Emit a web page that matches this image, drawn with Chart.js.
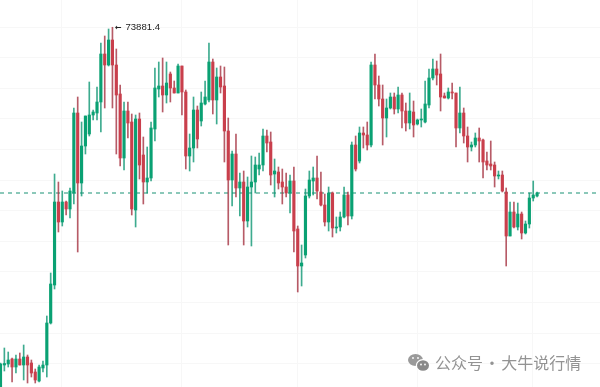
<!DOCTYPE html>
<html lang="en">

<head>
    <meta charset="UTF-8">
    <title>BTC candles</title>
    <style>
        body {
            margin: 0;
            background: #fff;
        }

        canvas {
            display: block;
        }
    </style>
    <script src="https://cdn.jsdelivr.net/npm/chart.js"></script>
</head>

<body>
    <canvas id="candleChart" width="600" height="387"></canvas>

    <script>
        // candle values, one entry per bar
        const opens = [63090, 63750, 63780, 63930, 63690, 63930, 63750, 63990, 63810, 63540, 63270, 63660, 63750, 65010, 66150, 68640, 68040, 68640, 68430, 68910, 71310, 69210, 70320, 70680, 71250, 71310, 71640, 73080, 72750, 73500, 72750, 71880, 69960, 71370, 71040, 68400, 71130, 70050, 69240, 69360, 70830, 72030, 72120, 71850, 72480, 72060, 71910, 72720, 71940, 70020, 70260, 71400,
            71070, 71580, 71700, 72840, 71700, 72390, 72120, 70770, 69300, 70080, 69060, 69240, 68070, 69090, 69240, 69630, 69750, 70620, 70440, 69480, 69540, 69240, 69090, 68910, 69270, 67830, 66720, 67050, 68820, 69270, 69360, 68940, 68550, 68040, 68910, 67860, 67890, 68190, 68850, 68220, 70350, 69870, 70710, 70650, 70350, 72750, 72150, 71730, 71160, 71460, 71790, 71430,
            71850, 71370, 71010, 71340, 70980, 71100, 71040, 71550, 72360, 72630, 72480, 71820, 71760, 71940, 71910, 70860, 71310, 70620, 70290, 70350, 70560, 70500, 69870, 69780, 69750, 69420, 69450, 68940, 67620, 68340, 67890, 68280, 67710, 67980, 68760, 68820];
        const closes = [63780, 63795, 63900, 63690, 63930, 63750, 63990, 63750, 63510, 63300, 63690, 63750, 65010, 66180, 68640, 68040, 68640, 68430, 68970, 71310, 69210, 70320, 71220, 71250, 71340, 71640, 73080, 72750, 73500, 72750, 71850, 69960, 71370, 71010, 68430, 71130, 69750, 69240, 69360, 70860, 72060, 72120, 71850, 72210, 72060, 71910, 72720, 71940, 70020, 70260, 71400, 70530,
            71610, 71790, 72840, 71700, 72390, 72090, 70770, 69300, 70080, 69060, 69240, 68070, 69090, 69240, 69750, 69750, 70620, 70410, 69450, 69570, 69210, 69090, 68910, 69270, 67770, 66720, 66810, 68820, 69300, 69360, 68970, 68550, 68040, 68910, 67860, 67890, 68190, 68850, 68220, 70350, 69630, 70710, 70650, 70350, 72750, 72150, 71730, 71160, 71460, 71790, 71430, 71850,
            71370, 71010, 71370, 70950, 71100, 71130, 71580, 72360, 72630, 72450, 71790, 71760, 71940, 71910, 70860, 71310, 70620, 70290, 70350, 70560, 70470, 69840, 69750, 69720, 69420, 69450, 68970, 67620, 68340, 67890, 68280, 67710, 67980, 68760, 68850, 68910];
        const highs = [63810, 64260, 64140, 63960, 64050, 64110, 64350, 64050, 63900, 63630, 63750, 63870, 65220, 66510, 69480, 69240, 68970, 68670, 69060, 71460, 71790, 71040, 71220, 72240, 71400, 72090, 73410, 73620, 73830, 73881.4, 73230, 72150, 71640, 71640, 71280, 71250, 71310, 70590, 70290, 71040, 72660, 72840, 72960, 72840, 72540, 72270, 72780, 72720, 72000, 70680, 71790, 71520,
            71940, 72270, 73410, 72930, 72660, 72720, 72690, 71160, 70170, 70680, 69510, 69570, 69390, 70020, 69990, 70110, 70830, 70800, 70740, 69930, 69690, 69630, 69510, 69450, 69690, 67920, 67350, 69030, 69570, 69690, 70020, 69540, 68880, 69090, 68940, 68190, 68340, 69090, 68940, 70440, 70620, 70890, 70890, 71040, 72840, 73080, 72420, 72150, 71730, 71910, 71910, 72090,
            71910, 71610, 71910, 71670, 71130, 71430, 72270, 72630, 72930, 72870, 73080, 71910, 72060, 72210, 71910, 72090, 71460, 70890, 70440, 70710, 70860, 70530, 70140, 70470, 69840, 69570, 69570, 69060, 68640, 68640, 68610, 68340, 68070, 68910, 69270, 68940];
        const lows = [63090, 63570, 63690, 63240, 63510, 63750, 63300, 63210, 63390, 63210, 63240, 63540, 63390, 64980, 66030, 67740, 67920, 68250, 68160, 68580, 67140, 68820, 70080, 70620, 71100, 71100, 70740, 71460, 72720, 71460, 70080, 69720, 69600, 70560, 68250, 67890, 69330, 68580, 68910, 69270, 70470, 71790, 71340, 71610, 71640, 71910, 71910, 71250, 69630, 69570, 69840, 70260,
            70920, 71550, 71640, 71280, 70980, 71910, 69840, 67350, 68520, 68790, 68220, 67350, 67890, 67320, 68910, 69450, 69570, 70140, 69150, 68790, 69030, 68580, 68790, 68310, 67140, 65940, 66120, 66960, 68760, 68850, 68730, 68520, 67920, 67770, 67590, 67710, 67770, 68160, 67950, 68130, 69570, 69810, 70260, 70200, 70290, 71730, 71520, 70350, 70590, 71430, 71280, 71310,
            70860, 70770, 70830, 70590, 70950, 70890, 71010, 71460, 72300, 72150, 71370, 71760, 71730, 71730, 70290, 70710, 70410, 69840, 70170, 70290, 69840, 69360, 69600, 69600, 69090, 69330, 68940, 66720, 67620, 67860, 67800, 67530, 67680, 67860, 68670, 68790];

        const lastPrice = 68910;
        const peakIndex = 29;
        const gridX = [15.85, 46.95, 76.9, 108.1, 137.8];
        const gridY = [73890, 72972, 72054, 71136, 70218, 69300, 68382, 67464, 66546, 65628, 64710, 63792];

        const xMin = -0.13, xMax = 155.3;
        const yMin = 63090, yMax = 74700;

        const upBody = '#0aa173', downBody = '#c93f4c';
        const upWick = 'rgba(14, 150, 115, 0.8)', downWick = 'rgba(165, 50, 65, 0.8)';

        const isUp = i => closes[i] >= opens[i];

        // peak label and the watermark bottom right
        const overlayText = {
            id: 'overlayText',
            afterDraw(chart) {
                const { ctx, scales } = chart;
                const px = scales.x.getPixelForValue(peakIndex);
                const py = scales.y.getPixelForValue(highs[peakIndex]);
                ctx.save();
                ctx.fillStyle = '#222';
                ctx.textBaseline = 'middle';
                ctx.font = 'bold 8px "DejaVu Sans"';
                ctx.fillText('←', px + 2.5, py + 0.5);
                ctx.font = '9.6px "Liberation Sans"';
                ctx.fillText(highs[peakIndex].toString(), px + 13, py);

                // wechat style bubbles
                ctx.fillStyle = '#9a9a9a';
                ctx.beginPath();
                ctx.ellipse(415.5, 360, 7.5, 6, 0, 0, Math.PI * 2);
                ctx.fill();
                ctx.fillStyle = '#fff';
                ctx.beginPath();
                ctx.ellipse(423, 365.5, 7.2, 6.4, 0, 0, Math.PI * 2);
                ctx.fill();
                ctx.fillStyle = '#8a8a8a';
                ctx.beginPath();
                ctx.ellipse(423, 365.5, 6, 5.3, 0, 0, Math.PI * 2);
                ctx.fill();
                ctx.fillStyle = '#fff';
                [[413, 358], [418, 358], [421, 364.5], [425, 364.5]].forEach(([ex, ey]) => {
                    ctx.beginPath();
                    ctx.arc(ex, ey, 0.9, 0, Math.PI * 2);
                    ctx.fill();
                });

                ctx.fillStyle = '#939393';
                ctx.font = '16px "Noto Sans CJK SC"';
                ctx.wordSpacing = '-2.5px';
                ctx.fillText('公众号 · 大牛说行情', 435, 363);
                ctx.restore();
            }
        };

        new Chart(document.getElementById('candleChart'), {
            type: 'bar',
            plugins: [overlayText],
            data: {
                datasets: [
                    {
                        data: opens.map((o, i) => ({ x: i, y: [o, closes[i]] })),
                        backgroundColor: opens.map((o, i) => isUp(i) ? upBody : downBody),
                        barThickness: 2.5,
                        grouped: false,
                        order: 1
                    },
                    {
                        data: highs.map((h, i) => ({ x: i, y: [lows[i], h] })),
                        backgroundColor: highs.map((h, i) => isUp(i) ? upWick : downWick),
                        barThickness: 1,
                        grouped: false,
                        order: 2
                    },
                    {
                        type: 'line',
                        data: [{ x: xMin, y: lastPrice }, { x: xMax, y: lastPrice }],
                        borderColor: '#3fa58c',
                        borderWidth: 1.2,
                        borderDash: [4, 4],
                        pointRadius: 0,
                        order: 3
                    }
                ]
            },
            options: {
                responsive: false,
                animation: false,
                layout: { padding: 0 },
                plugins: { legend: { display: false }, tooltip: { enabled: false } },
                scales: {
                    x: {
                        type: 'linear',
                        min: xMin,
                        max: xMax,
                        offset: false,
                        ticks: { display: false, autoSkip: false },
                        grid: { offset: false, color: '#f7f7f7', drawTicks: false },
                        border: { display: false },
                        afterBuildTicks: axis => { axis.ticks = gridX.map(value => ({ value })); }
                    },
                    y: {
                        min: yMin,
                        max: yMax,
                        ticks: { display: false, autoSkip: false },
                        grid: { color: '#f7f7f7', drawTicks: false },
                        border: { display: false },
                        afterBuildTicks: axis => { axis.ticks = gridY.map(value => ({ value })); }
                    }
                }
            }
        });
    </script>
</body>

</html>
